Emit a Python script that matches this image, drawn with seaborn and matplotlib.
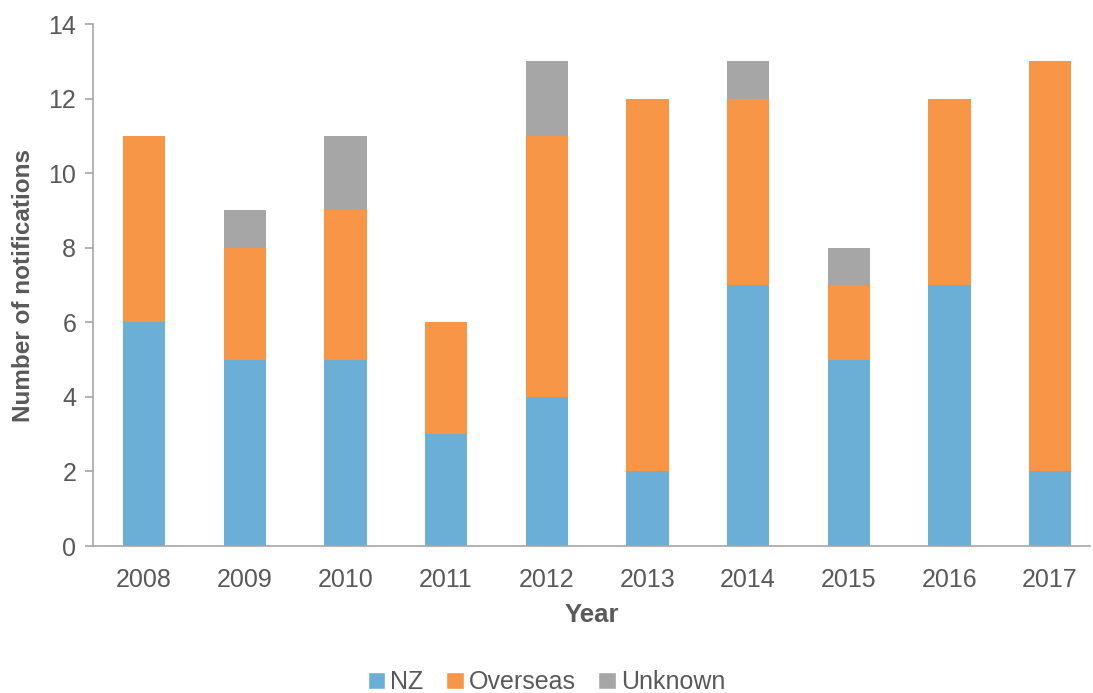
import matplotlib
matplotlib.use("Agg")
import matplotlib.pyplot as plt
import seaborn as sns
import numpy as np
import pandas as pd
from matplotlib.patches import Patch

years = ["2008", "2009", "2010", "2011", "2012", "2013", "2014", "2015", "2016", "2017"]
nz = [6, 5, 5, 3, 4, 2, 7, 5, 7, 2]
overseas = [5, 3, 4, 3, 7, 10, 5, 2, 5, 11]
unknown = [0, 1, 2, 0, 2, 0, 1, 1, 0, 0]

c_nz = "#6BAED6"
c_ov = "#F79646"
c_un = "#A6A6A6"
txt = "#595959"

sns.set_theme(style="white")
plt.rcParams["font.family"] = ["Liberation Sans", "DejaVu Sans"]

df = pd.DataFrame({"Year": years, "NZ": nz, "Overseas": overseas, "Unknown": unknown})
df["cum_ov"] = df["NZ"] + df["Overseas"]
df["cum_un"] = df["cum_ov"] + df["Unknown"]

fig = plt.figure(figsize=(10.93, 6.93), dpi=100)
ax = fig.add_axes([93 / 1093, 1 - 546 / 693, (1090 - 93) / 1093, (546 - 24) / 693])

for col, color in [("cum_un", c_un), ("cum_ov", c_ov), ("NZ", c_nz)]:
    sns.barplot(data=df, x="Year", y=col, color=color, width=0.42, ax=ax,
                saturation=1, edgecolor="none", linewidth=0)

ax.set_xlim(-0.507, 9.397)
ax.set_ylim(0, 14)
ax.set_yticks(range(0, 15, 2))
ax.set_ylabel("Number of notifications", fontsize=17.5, fontweight="bold", color=txt, labelpad=10)
ax.set_xlabel("Year", fontsize=18.5, fontweight="bold", color=txt, labelpad=8)

for s in ["top", "right"]:
    ax.spines[s].set_visible(False)
for s in ["left", "bottom"]:
    ax.spines[s].set_color("#A6A6A6")
    ax.spines[s].set_linewidth(1.2)

ax.tick_params(axis="y", which="both", left=True, length=6, width=1.2, color="#A6A6A6",
               labelsize=18, labelcolor=txt, pad=6)
ax.tick_params(axis="x", which="both", bottom=False, labelsize=18, labelcolor=txt, pad=10)

handles = [Patch(facecolor=c_nz, label="NZ"), Patch(facecolor=c_ov, label="Overseas"),
           Patch(facecolor=c_un, label="Unknown")]
leg = fig.legend(handles=handles, loc="center", bbox_to_anchor=(0.5, 1 - 682 / 693), ncol=3,
                 frameon=False, fontsize=18, handlelength=0.7, handleheight=0.7,
                 handletextpad=0.2, columnspacing=0.9)
for t in leg.get_texts():
    t.set_color(txt)

fig.savefig("out.png", dpi=100)
